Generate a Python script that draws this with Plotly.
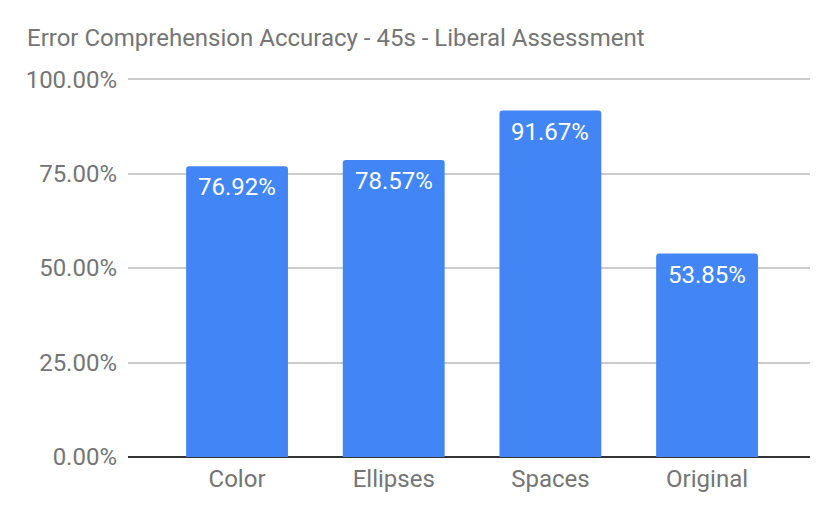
import plotly.graph_objects as go

categories = ["Color", "Ellipses", "Spaces", "Original"]
accuracy = [76.92, 78.57, 91.67, 53.85]
y_ticks = [0, 25, 50, 75, 100]
y_tick_labels = ["0.00%", "25.00%", "50.00%", "75.00%", "100.00%"]

FONT = "Roboto, Arial, sans-serif"
GREY = "#757575"

# the page puts the figure 8px in from the top-left corner, so offsets are in figure px
fig = go.Figure()
fig.add_trace(go.Bar(
    x=categories,
    y=accuracy,
    width=0.65,
    marker=dict(color="#4285F4", cornerradius=3, line=dict(width=0)),
    hoverinfo="x+y",
))

# value labels just inside the top of each bar
for cat, val in zip(categories, accuracy):
    fig.add_annotation(
        x=cat, y=val,
        text="{:.2f}%".format(val),
        showarrow=False,
        yanchor="top",
        yshift=-5,
        font=dict(family=FONT, size=24, color="white"),
    )

fig.update_layout(
    width=838, height=518,
    margin=dict(l=120, r=36, t=70, b=69),
    paper_bgcolor="white",
    plot_bgcolor="white",
    showlegend=False,
    title=dict(
        text="Error Comprehension Accuracy - 45s - Liberal Assessment",
        font=dict(family=FONT, size=24, color=GREY),
        x=19 / 838, xanchor="left",
        y=1 - 30 / 518, yanchor="middle",
    ),
    xaxis=dict(
        range=[-0.696, 3.657],
        showgrid=False,
        showline=False,
        zeroline=False,
        ticks="",
        ticklabelstandoff=5,
        tickfont=dict(family=FONT, size=24, color=GREY),
    ),
    yaxis=dict(
        range=[0, 100.3],
        tickvals=y_ticks,
        ticktext=y_tick_labels,
        showgrid=True,
        gridcolor="#cccccc",
        gridwidth=1.5,
        zeroline=True,
        zerolinecolor="#333333",
        zerolinewidth=2,
        showline=False,
        ticks="",
        ticklabelstandoff=10,
        tickfont=dict(family=FONT, size=24, color=GREY),
    ),
)

fig.write_html("out.html")
